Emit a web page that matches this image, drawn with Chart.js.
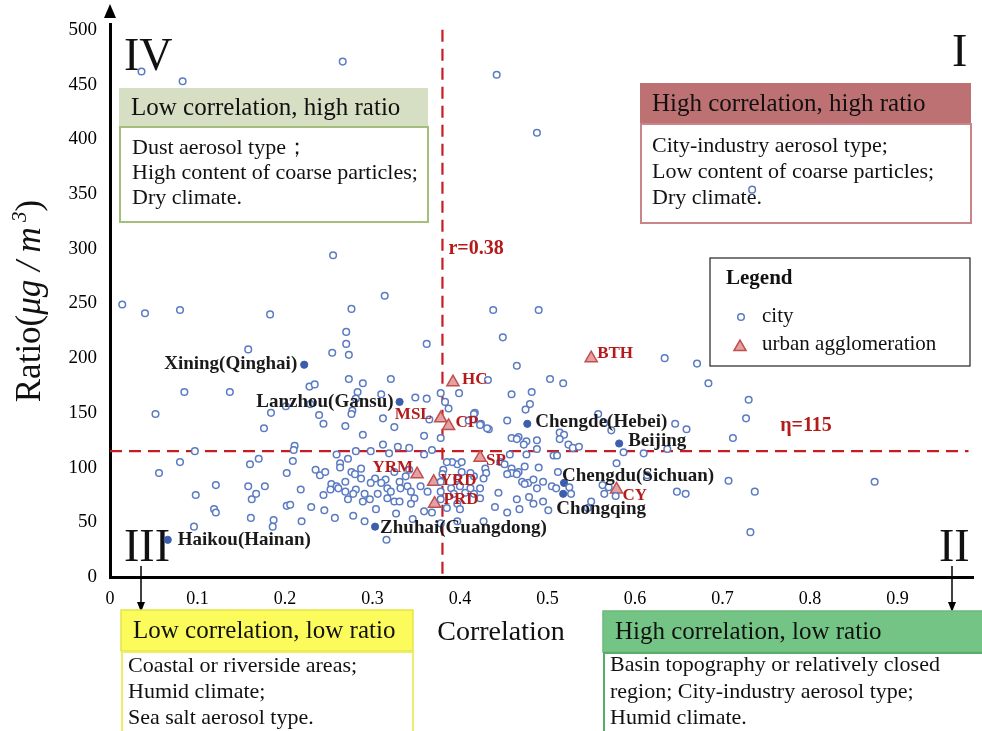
<!DOCTYPE html>
<html><head><meta charset="utf-8">
<script src="https://cdn.jsdelivr.net/npm/chart.js@4"></script>
<style>html,body{margin:0;padding:0;background:#fff;}canvas{display:block;}</style>
</head><body>
<canvas id="c" width="982" height="731"></canvas>
<script>
// ---------------- DATA ----------------
const cityX = [0.036,0.083,0.266,0.442,0.488,0.734,0.255,0.314,0.014,0.040,0.080,0.183,0.276,0.438,0.490,0.270,0.449,0.362,0.270,0.273,0.254,0.158,0.465,0.634,0.671,0.684,0.730,0.727,0.712,0.646,0.659,
0.273,0.289,0.321,0.228,0.234,0.283,0.281,0.310,0.349,0.362,0.378,0.184,0.239,0.277,0.312,0.383,0.365,0.432,0.503,0.518,0.399,0.459,0.482,0.387,0.480,0.475,0.417,0.558,
0.085,0.137,0.052,0.201,0.229,0.244,0.176,0.211,0.210,0.097,0.080,0.056,0.170,0.160,0.209,0.202,0.235,0.240,0.246,0.121,0.098,0.158,0.177,0.167,0.162,0.218,0.244,0.119,0.121,0.202,0.206,0.230,0.245,0.161,0.187,0.186,0.219,0.096,
0.325,0.269,0.289,0.359,0.378,0.410,0.424,0.433,0.454,0.459,0.467,0.476,0.488,0.276,0.281,0.298,0.312,0.319,0.329,0.342,0.359,0.368,0.259,0.272,0.263,0.263,0.276,0.287,0.280,0.287,0.269,0.303,0.315,0.325,0.331,0.338,0.342,0.253,0.259,0.281,0.298,0.310,0.317,0.321,0.332,0.340,0.344,0.355,0.363,0.269,0.278,0.291,0.306,0.317,0.289,0.297,0.325,0.331,0.348,0.344,0.272,0.261,0.252,0.304,0.257,0.278,0.291,0.327,0.346,0.359,0.368,0.316,
0.416,0.416,0.423,0.431,0.465,0.473,0.488,0.476,0.457,0.446,0.451,0.459,0.467,0.459,0.454,0.465,0.474,0.490,0.471,0.478,0.484,0.474,0.495,0.488,0.444,0.423,0.416,0.406,0.429,0.430,0.427,0.416,0.412,0.402,0.397,0.391,0.385,0.402,0.381,0.380,0.378,0.397,0.423,0.412,0.400,0.390,0.378,0.393,0.378,0.397,0.400,0.440,0.454,0.468,0.484,0.495,0.479,0.465,0.385,0.397,0.427,0.378,
0.565,0.573,0.514,0.519,0.514,0.524,0.529,0.536,0.587,0.610,0.637,0.507,0.511,0.579,0.512,0.614,0.707,0.737,0.648,0.658,0.563,0.570,0.565,0.578,0.505,0.510,0.525,0.527,0.550,0.546,0.501,0.732,0.874];
const cityY = [462,453,471,459,406,354,294,257,249,241,244,240,245,244,244,224,219,213,213,203,205,208,193,200,195,177,162,145,127,140,135,
181,177,181,174,176,169,163,167,164,163,168,150,148,152,145,160,144,180,181,177,168,167,169,154,158,153,150,149,
169,169,149,156,158,140,136,120,116,115,105,95,108,103,106,95,98,93,96,84,75,83,83,76,71,80,75,62,59,65,66,64,61,54,52,46,51,46,
137,138,130,129,127,143,140,135,143,127,128,124,125,149,115,115,121,113,119,118,112,116,112,108,104,100,96,99,94,90,87,90,89,96,87,92,98,85,83,80,86,86,81,78,81,83,78,83,78,78,76,76,76,72,69,71,69,69,72,67,71,81,80,62,54,56,51,58,53,60,59,34,
149,144,139,136,126,121,117,112,112,105,103,99,96,95,94,94,101,100,87,86,89,85,87,81,77,72,76,77,99,95,90,92,95,96,103,105,105,105,98,94,87,90,81,81,83,81,78,76,71,67,62,64,59,62,67,69,73,71,63,51,51,49,
141,134,132,130,126,121,118,119,114,113,117,111,111,104,96,93,88,78,78,76,84,82,76,74,83,81,82,76,69,63,61,41,87];

const namedCities = ['Xining(Qinghai)','Lanzhou(Gansu)','Chengde(Hebei)','Beijing','Chengdu(Sichuan)','Chongqing','Zhuhai(Guangdong)','Haikou(Hainan)'];
const namedX = [0.222,0.331,0.477,0.582,0.519,0.518,0.303,0.066];
const namedY = [194,160,140,122,86,76,46,34];

const aggNames = ['HC','MSL','CP','BTH','YRM','YRD','PRD','SP','CY'];
const aggX = [0.392,0.378,0.387,0.550,0.351,0.370,0.371,0.423,0.579];
const aggY = [178,145,138,200,94,87,67,109,80];

const xTickValues = [0,0.1,0.2,0.3,0.4,0.5,0.6,0.7,0.8,0.9];
const yTickValues = [0,50,100,150,200,250,300,350,400,450,500];

const rThreshold = 0.38;
const etaThreshold = 115;

// ---------------- STYLE ----------------
const SERIF = '"Liberation Serif","Times New Roman",Times,serif';
const f = (size, weight, style) => `${style||'normal'} ${weight||'normal'} ${size}px ${SERIF}`;
const RED = '#c41e24';
const LABEL_RED = '#b51a1a';
const CITY_BLUE = '#5b7bc2';
const NAMED_BLUE = '#3d5eab';
const TRI_FILL = '#e3a1a1';
const TRI_STROKE = '#c0504d';

const namedStyle = {
  'Xining(Qinghai)': {dx:-7, dy:-1, align:'right'},
  'Lanzhou(Gansu)': {dx:-6, dy:0, align:'right'},
  'Chengde(Hebei)': {dx:8, dy:-2, align:'left'},
  'Beijing': {dx:9, dy:-2, align:'left'},
  'Chengdu(Sichuan)': {dx:-2, dy:-7, align:'left'},
  'Chongqing': {dx:-7, dy:15, align:'left'},
  'Zhuhai(Guangdong)': {dx:5, dy:1, align:'left'},
  'Haikou(Hainan)': {dx:10, dy:0, align:'left'}
};
const aggStyle = {
  HC:{dx:9,dy:-3,align:'left'}, MSL:{dx:-9,dy:-4,align:'right'}, CP:{dx:7,dy:-3,align:'left'},
  BTH:{dx:6,dy:-5,align:'left'}, YRM:{dx:-4,dy:-7,align:'right'}, YRD:{dx:6,dy:-1,align:'left'},
  PRD:{dx:9,dy:-4,align:'left'}, SP:{dx:6,dy:3,align:'left'}, CY:{dx:6,dy:6,align:'left'}
};

const quadBoxes = [
  {x:119,y:88,w:309,headH:38,headFill:'#d6dec3',headStroke:null,bodyStroke:'#a4bf7c',bodyH:95,
   title:'Low correlation, high ratio',titleX:131,lines:['Dust aerosol type；','High content of coarse particles;','Dry climate.'],lineX:132,lineY:[148,173,198]},
  {x:640,y:83,w:331,headH:40,headFill:'#bd7173',headStroke:null,bodyStroke:'#c8868a',bodyH:99,
   title:'High correlation, high ratio',titleX:652,lines:['City-industry aerosol type;','Low content of coarse particles;','Dry climate.'],lineX:652,lineY:[146,172,198]}
];
const bottomBoxes = [
  {x:121,y:610,w:292,headH:41,headFill:'#fbfb5c',headStroke:'#e4e44a',bodyStroke:'#eeee66',bodyH:90,
   title:'Low correlation, low ratio',titleX:133,lines:['Coastal or riverside areas;','Humid climate;','Sea salt aerosol type.'],lineX:128,lineY:[666,692,718]},
  {x:603,y:611,w:381,headH:41,headFill:'#74c585',headStroke:'#6abb7a',bodyStroke:'#5aad69',bodyH:90,
   title:'High correlation, low ratio',titleX:615,lines:['Basin topography or relatively closed','region; City-industry aerosol type;','Humid climate.'],lineX:610,lineY:[665,692,718]}
];

function drawBox(ctx, b) {
  ctx.save();
  ctx.fillStyle = b.headFill;
  ctx.fillRect(b.x, b.y, b.w, b.headH);
  if (b.headStroke) { ctx.strokeStyle = b.headStroke; ctx.lineWidth = 1.5; ctx.strokeRect(b.x, b.y, b.w, b.headH); }
  ctx.fillStyle = '#111';
  ctx.font = f(25);
  ctx.textAlign = 'left'; ctx.textBaseline = 'middle';
  ctx.fillText(b.title, b.titleX, b.y + b.headH / 2 + 1);
  const by = b.y + b.headH + 1;
  ctx.fillStyle = '#fff';
  ctx.fillRect(b.x + 1, by, b.w - 1, b.bodyH);
  ctx.strokeStyle = b.bodyStroke; ctx.lineWidth = 2;
  ctx.strokeRect(b.x + 1, by, b.w - 1, b.bodyH);
  ctx.fillStyle = '#111';
  ctx.font = f(22);
  b.lines.forEach((t, i) => ctx.fillText(t, b.lineX, b.lineY[i]));
  ctx.restore();
}

function drawDownArrow(ctx, x, y0, y1) {
  ctx.save();
  ctx.strokeStyle = '#000'; ctx.fillStyle = '#000'; ctx.lineWidth = 1.5;
  ctx.beginPath(); ctx.moveTo(x, y0); ctx.lineTo(x, y1 - 8); ctx.stroke();
  ctx.beginPath(); ctx.moveTo(x, y1); ctx.lineTo(x - 4, y1 - 10); ctx.lineTo(x + 4, y1 - 10); ctx.closePath(); ctx.fill();
  ctx.restore();
}

function drawTriangle(ctx, x, y, r) {
  ctx.beginPath();
  ctx.moveTo(x, y - r);
  ctx.lineTo(x + r * Math.sin(2 * Math.PI / 3), y - r * Math.cos(2 * Math.PI / 3));
  ctx.lineTo(x + r * Math.sin(4 * Math.PI / 3), y - r * Math.cos(4 * Math.PI / 3));
  ctx.closePath();
  ctx.fillStyle = TRI_FILL; ctx.fill();
  ctx.strokeStyle = TRI_STROKE; ctx.lineWidth = 1.5; ctx.stroke();
}

const overlay = {
  id: 'overlay',
  beforeDatasetsDraw(chart) {
    const ctx = chart.ctx, xs = chart.scales.x, ys = chart.scales.y, ca = chart.chartArea;
    quadBoxes.forEach(b => drawBox(ctx, b));
    // roman numerals
    ctx.save();
    ctx.fillStyle = '#111'; ctx.font = f(46); ctx.textBaseline = 'middle'; ctx.textAlign = 'left';
    ctx.fillText('IV', 124, 58);
    ctx.fillText('I', 952, 54);
    ctx.fillText('III', 124, 549);
    ctx.fillText('II', 939, 549);
    ctx.restore();
    // threshold lines
    const xp = xs.getPixelForValue(rThreshold);
    const yp = ys.getPixelForValue(etaThreshold);
    ctx.save();
    ctx.strokeStyle = RED; ctx.lineWidth = 2.2; ctx.setLineDash([12, 7]);
    ctx.beginPath(); ctx.moveTo(xp, ys.getPixelForValue(500)); ctx.lineTo(xp, ca.bottom); ctx.stroke();
    ctx.beginPath(); ctx.moveTo(ca.left, yp); ctx.lineTo(ca.right - 5, yp); ctx.stroke();
    ctx.restore();
    ctx.save();
    ctx.fillStyle = LABEL_RED; ctx.font = f(20, 'bold'); ctx.textBaseline = 'middle'; ctx.textAlign = 'left';
    ctx.fillText('r=' + rThreshold, xp + 6, ys.getPixelForValue(300));
    ctx.fillText('η=' + etaThreshold, xs.getPixelForValue(0.766), yp - 25);
    ctx.restore();
  },
  afterDatasetsDraw(chart) {
    const ctx = chart.ctx, xs = chart.scales.x, ys = chart.scales.y;
    ctx.save();
    ctx.textBaseline = 'middle';
    ctx.font = f(19, 'bold'); ctx.fillStyle = '#1a1a1a';
    namedCities.forEach((n, i) => {
      const s = namedStyle[n];
      ctx.textAlign = s.align;
      ctx.fillText(n, xs.getPixelForValue(namedX[i]) + s.dx, ys.getPixelForValue(namedY[i]) + s.dy);
    });
    ctx.font = f(17, 'bold'); ctx.fillStyle = LABEL_RED;
    aggNames.forEach((n, i) => {
      const s = aggStyle[n];
      ctx.textAlign = s.align;
      ctx.fillText(n, xs.getPixelForValue(aggX[i]) + s.dx, ys.getPixelForValue(aggY[i]) + s.dy);
    });
    ctx.restore();
    // legend
    ctx.save();
    ctx.fillStyle = '#fff'; ctx.fillRect(710, 258, 260, 108);
    ctx.strokeStyle = '#222'; ctx.lineWidth = 1.2; ctx.strokeRect(710, 258, 260, 108);
    ctx.fillStyle = '#111'; ctx.textAlign = 'left'; ctx.textBaseline = 'middle';
    ctx.font = f(21, 'bold'); ctx.fillText('Legend', 726, 279);
    ctx.font = f(21);
    ctx.fillText('city', 762, 316);
    ctx.fillText('urban agglomeration', 762, 344);
    ctx.beginPath(); ctx.arc(741, 317, 3.3, 0, Math.PI * 2);
    ctx.fillStyle = '#fff'; ctx.fill(); ctx.strokeStyle = CITY_BLUE; ctx.lineWidth = 1.5; ctx.stroke();
    drawTriangle(ctx, 740, 347, 7);
    ctx.restore();
  },
  afterDraw(chart) {
    const ctx = chart.ctx, ca = chart.chartArea;
    // y-axis arrow head
    ctx.save();
    ctx.fillStyle = '#000';
    ctx.beginPath(); ctx.moveTo(ca.left, 4); ctx.lineTo(ca.left - 6, 18); ctx.lineTo(ca.left + 6, 18); ctx.closePath(); ctx.fill();
    ctx.restore();
    // y title
    ctx.save();
    ctx.translate(40, 301); ctx.rotate(-Math.PI / 2);
    ctx.fillStyle = '#111'; ctx.textBaseline = 'alphabetic'; ctx.textAlign = 'left';
    const segs = [
      {t:'Ratio(', font:f(35)},
      {t:'μg / m', font:f(35, 'normal', 'italic')},
      {t:' 3', font:f(21, 'normal', 'italic'), dy:-14},
      {t:')', font:f(35)}
    ];
    let total = 0;
    segs.forEach(s => { ctx.font = s.font; s.w = ctx.measureText(s.t).width; total += s.w; });
    let x = -total / 2;
    segs.forEach(s => { ctx.font = s.font; ctx.fillText(s.t, x, s.dy || 0); x += s.w; });
    ctx.restore();
    // x title
    ctx.save();
    ctx.fillStyle = '#111'; ctx.font = f(28); ctx.textAlign = 'center'; ctx.textBaseline = 'middle';
    ctx.fillText('Correlation', 501, 633);
    ctx.restore();
    drawDownArrow(ctx, 141, 566, 612);
    drawDownArrow(ctx, 952, 566, 612);
    bottomBoxes.forEach(b => drawBox(ctx, b));
  }
};

const cityData = cityX.map((x, i) => ({x, y: cityY[i]}));
const namedData = namedX.map((x, i) => ({x, y: namedY[i]}));
const aggData = aggX.map((x, i) => ({x, y: aggY[i]}));

new Chart(document.getElementById('c'), {
  type: 'scatter',
  data: {
    datasets: [
      {label:'city', data: cityData, pointStyle:'circle', pointRadius:3.3, pointBorderWidth:1.5,
       borderColor: CITY_BLUE, backgroundColor:'#fff'},
      {label:'named city', data: namedData, pointStyle:'circle', pointRadius:3.6, pointBorderWidth:1,
       borderColor: NAMED_BLUE, backgroundColor: NAMED_BLUE},
      {label:'urban agglomeration', data: aggData, pointStyle:'triangle', pointRadius:7, pointBorderWidth:1.5,
       borderColor: TRI_STROKE, backgroundColor: TRI_FILL}
    ]
  },
  options: {
    responsive:false, animation:false, events:[],
    layout:{padding:{top:14, right:2, left:0, bottom:0}},
    plugins:{legend:{display:false}, tooltip:{enabled:false}},
    scales:{
      x:{type:'linear', min:0, max:0.987,
        afterBuildTicks: s => { s.ticks = xTickValues.map(v => ({value:v})); },
        afterFit: s => { s.height = 154; },
        grid:{display:false, drawTicks:false},
        border:{display:true, color:'#000', width:3},
        ticks:{padding:11, color:'#000', font:{family:SERIF, size:18}, maxRotation:0,
          callback: v => v === 0 ? '0' : Number(v).toFixed(1)}
      },
      y:{type:'linear', min:0, max:505,
        afterBuildTicks: s => { s.ticks = yTickValues.map(v => ({value:v})); },
        afterFit: s => { s.width = 110; },
        grid:{display:false, drawTicks:false},
        border:{display:true, color:'#000', width:3},
        ticks:{padding:13, color:'#000', font:{family:SERIF, size:19},
          callback: v => String(v)}
      }
    }
  },
  plugins:[overlay]
});
</script>
</body></html>
